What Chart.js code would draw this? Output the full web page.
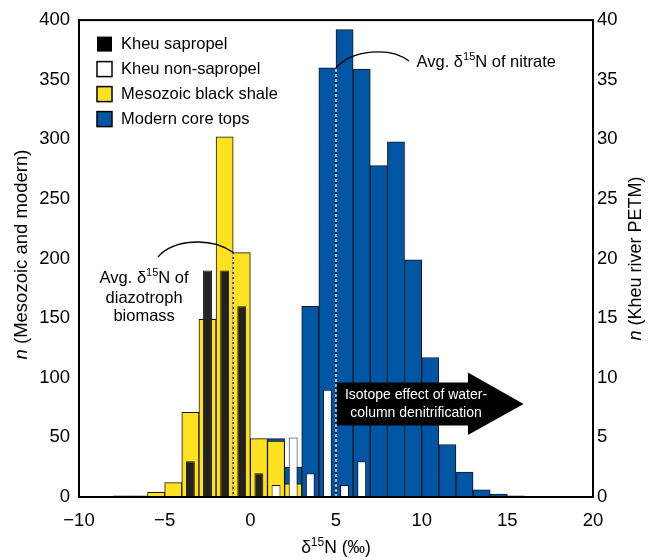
<!DOCTYPE html>
<html lang="en">
<head>
<meta charset="UTF-8">
<title>δ15N histogram</title>
<style>
  body { margin: 0; background: #fff; }
  #wrap { width: 652px; height: 560px; }
</style>
<script src="https://cdn.jsdelivr.net/npm/chart.js"></script>
</head>
<body>
<div id="wrap"><canvas id="histChart"></canvas></div>
<script>
// series names (legend order)
const seriesNames = ['Kheu sapropel', 'Kheu non-sapropel', 'Mesozoic black shale', 'Modern core tops'];

// bin centres (‰) and counts
// Kheu river PETM -> right axis
const sapropelX = [-3.5, -2.5, -1.5, -0.5, 0.5];
const sapropelN = [3, 19, 19, 16, 2];
const nonSapropelX = [1.5, 2.5, 3.5, 4.5, 5.5, 6.5];
const nonSapropelN = [1, 5, 2, 9, 1, 3];
// Mesozoic and modern -> left axis
const shaleX = [-7.5, -6.5, -5.5, -4.5, -3.5, -2.5, -1.5, -0.5, 0.5, 1.5, 2.5];
const shaleN = [1, 1, 4, 12, 71, 149, 302, 205, 49, 47, 11];
const modernX = [1.5, 2.5, 3.5, 4.5, 5.5, 6.5, 7.5, 8.5, 9.5, 10.5, 11.5, 12.5, 13.5, 14.5, 15.5];
const modernN = [49, 25, 160, 360, 392, 359, 278, 298, 199, 117, 44, 21, 6, 2.5, 1];

// axis ticks
const xTicks = [-10, -5, 0, 5, 10, 15, 20];
const leftTicks = [0, 50, 100, 150, 200, 250, 300, 350, 400];
const rightTicks = [0, 5, 10, 15, 20, 25, 30, 35, 40];

// averages marked with dashed lines (x in ‰, top in left-axis counts)
const avgNitrate = 5, avgNitrateTop = 360;
const avgDiazo = -1, avgDiazoTop = 205;

const FONT = '"Liberation Sans", Arial, Helvetica, sans-serif';
const colors = {
  sapropel: '#222222',
  nonSapropel: '#ffffff',
  shale: '#ffe21f',
  modern: '#0055a5',
  edge: '#151515'
};

function toXY(xs, ys) {
  return xs.map((x, i) => ({ x: x, y: ys[i] }));
}

function fontFor(kind, size) {
  if (kind === 'sup') return Math.round(size * 0.68) + 'px ' + FONT;
  if (kind === 'it') return 'italic ' + size + 'px ' + FONT;
  return size + 'px ' + FONT;
}

// draw text made of parts like [['δ',''],['15','sup'],['N','']]
function drawRich(ctx, parts, x, y, size, align) {
  let w = 0;
  parts.forEach(([t, k]) => { ctx.font = fontFor(k, size); w += ctx.measureText(t).width; });
  let cx = align === 'center' ? x - w / 2 : (align === 'right' ? x - w : x);
  ctx.textAlign = 'left';
  ctx.textBaseline = 'middle';
  parts.forEach(([t, k]) => {
    ctx.font = fontFor(k, size);
    ctx.fillText(t, cx, k === 'sup' ? y - size * 0.33 : y);
    cx += ctx.measureText(t).width;
  });
}

const annotations = {
  id: 'annotations',
  afterDatasetsDraw(chart) {
    const ctx = chart.ctx;
    const xs = chart.scales.x, ys = chart.scales.y;
    const px = v => xs.getPixelForValue(v);
    const py = v => ys.getPixelForValue(v);
    ctx.save();

    // dashed average lines
    ctx.strokeStyle = '#ffffff';
    ctx.lineWidth = 1.3;
    ctx.setLineDash([3, 2]);
    [[avgNitrate, avgNitrateTop], [avgDiazo, avgDiazoTop]].forEach(([x, top]) => {
      ctx.beginPath();
      ctx.moveTo(px(x), py(0));
      ctx.lineTo(px(x), py(top));
      ctx.stroke();
    });
    ctx.setLineDash([]);

    // leader curves
    ctx.strokeStyle = '#000';
    ctx.lineWidth = 1.3;
    ctx.beginPath();
    ctx.moveTo(px(avgNitrate), py(avgNitrateTop));
    ctx.bezierCurveTo(px(5.93), py(374.8), px(8.15), py(378.2), px(9.26), py(365.6));
    ctx.stroke();
    ctx.beginPath();
    ctx.moveTo(px(-5.39), py(201.3));
    ctx.bezierCurveTo(px(-4.57), py(215.5), px(-2.35), py(218.9), px(avgDiazo), py(avgDiazoTop));
    ctx.stroke();

    // labels
    ctx.fillStyle = '#000';
    drawRich(ctx, [['Avg. δ', ''], ['15', 'sup'], ['N of nitrate', '']], px(9.7), py(364.8), 16.5, 'left');
    drawRich(ctx, [['Avg. δ', ''], ['15', 'sup'], ['N of', '']], px(-6.2), py(183.4), 16.5, 'center');
    drawRich(ctx, [['diazotroph', '']], px(-6.2), py(166.6), 16.5, 'center');
    drawRich(ctx, [['biomass', '']], px(-6.2), py(151.2), 16.5, 'center');

    // denitrification arrow
    const x0 = px(5.05), xh = px(12.7), xt = px(15.95);
    const bLo = py(60), bHi = py(96), hLo = py(52), hHi = py(104.5), mid = py(78);
    ctx.fillStyle = '#000';
    ctx.beginPath();
    ctx.moveTo(x0, bHi);
    ctx.lineTo(xh, bHi);
    ctx.lineTo(xh, hHi);
    ctx.lineTo(xt, mid);
    ctx.lineTo(xh, hLo);
    ctx.lineTo(xh, bLo);
    ctx.lineTo(x0, bLo);
    ctx.closePath();
    ctx.fill();
    ctx.fillStyle = '#fff';
    drawRich(ctx, [['Isotope effect of water-', '']], px(9.67), py(85.5), 14, 'center');
    drawRich(ctx, [['column denitrification', '']], px(9.67), py(70.2), 14, 'center');

    // frame
    const a = chart.chartArea;
    ctx.strokeStyle = '#000';
    ctx.lineWidth = 2;
    ctx.strokeRect(a.left, a.top, a.right - a.left, a.bottom - a.top);

    // legend
    chart.data.datasets.forEach((ds, i) => {
      const cy = a.top + 24 + i * 25;
      const sx = a.left + 18;
      ctx.fillStyle = i === 0 ? '#000' : ds.backgroundColor;
      ctx.fillRect(sx, cy - 7.5, 15, 15);
      if (i !== 0) {
        ctx.strokeStyle = '#000';
        ctx.lineWidth = 1.5;
        ctx.strokeRect(sx, cy - 7.5, 15, 15);
      }
      ctx.fillStyle = '#000';
      drawRich(ctx, [[ds.label, '']], a.left + 42, cy, 16.5, 'left');
    });
    ctx.restore();
  },
  afterDraw(chart) {
    const ctx = chart.ctx;
    const a = chart.chartArea;
    const midY = (a.top + a.bottom) / 2;
    ctx.save();
    ctx.fillStyle = '#000';
    drawRich(ctx, [['δ', ''], ['15', 'sup'], ['N (‰)', '']], (a.left + a.right) / 2, 548, 17.5, 'center');
    ctx.translate(22, midY - 4);
    ctx.rotate(-Math.PI / 2);
    drawRich(ctx, [['n', 'it'], [' (Mesozoic and modern)', '']], 0, 0, 18.5, 'center');
    ctx.restore();
    ctx.save();
    ctx.fillStyle = '#000';
    ctx.translate(636, midY);
    ctx.rotate(-Math.PI / 2);
    drawRich(ctx, [['n', 'it'], [' (Kheu river PETM)', '']], 0, 0, 18, 'center');
    ctx.restore();
  }
};

const barDefaults = {
  grouped: false,
  borderColor: colors.edge,
  borderWidth: 1,
  borderSkipped: false
};

const tickFont = { family: FONT, size: 18.5 };
const noGrid = { display: false, drawTicks: false, tickLength: 0 };

new Chart(document.getElementById('histChart'), {
  type: 'bar',
  data: {
    datasets: [
      Object.assign({ label: seriesNames[0], data: toXY(sapropelX, sapropelN), yAxisID: 'y2',
        backgroundColor: colors.sapropel, barPercentage: 0.52, categoryPercentage: 1 }, barDefaults),
      Object.assign({ label: seriesNames[1], data: toXY(nonSapropelX, nonSapropelN), yAxisID: 'y2',
        backgroundColor: colors.nonSapropel, barPercentage: 0.52, categoryPercentage: 1 }, barDefaults),
      Object.assign({ label: seriesNames[2], data: toXY(shaleX, shaleN), yAxisID: 'y',
        backgroundColor: colors.shale, barPercentage: 1, categoryPercentage: 1 }, barDefaults),
      Object.assign({ label: seriesNames[3], data: toXY(modernX, modernN), yAxisID: 'y',
        backgroundColor: colors.modern, barPercentage: 1, categoryPercentage: 1 }, barDefaults)
    ]
  },
  options: {
    responsive: true,
    maintainAspectRatio: false,
    animation: false,
    layout: { padding: { top: 20, left: 0, right: 0, bottom: 0 } },
    plugins: { legend: { display: false }, tooltip: { enabled: false } },
    scales: {
      x: {
        type: 'linear',
        offset: false,
        min: xTicks[0],
        max: xTicks[xTicks.length - 1],
        grid: Object.assign({ offset: false }, noGrid),
        border: { display: false },
        ticks: {
          stepSize: xTicks[1] - xTicks[0],
          color: '#000',
          font: tickFont,
          padding: 13,
          maxRotation: 0,
          callback: v => String(v).replace('-', '\u2212')
        },
        afterFit: s => { s.height = 63; }
      },
      y: {
        position: 'left',
        min: leftTicks[0],
        max: leftTicks[leftTicks.length - 1],
        grid: noGrid,
        border: { display: false },
        ticks: { stepSize: leftTicks[1] - leftTicks[0], color: '#000', font: tickFont, padding: 9 },
        afterFit: s => { s.width = 79; }
      },
      y2: {
        position: 'right',
        min: rightTicks[0],
        max: rightTicks[rightTicks.length - 1],
        grid: noGrid,
        border: { display: false },
        ticks: { stepSize: rightTicks[1] - rightTicks[0], color: '#000', font: tickFont, padding: 4 },
        afterFit: s => { s.width = 59; }
      }
    }
  },
  plugins: [annotations]
});
</script>
</body>
</html>
